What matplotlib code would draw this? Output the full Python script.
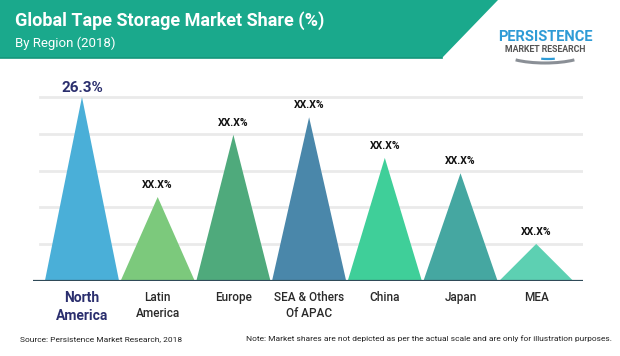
import numpy as np
import matplotlib.pyplot as plt
from matplotlib.patches import Polygon, Arc

# chart data
regions = ['North\nAmerica', 'Latin\nAmerica', 'Europe', 'SEA & Others\nOf APAC', 'China', 'Japan', 'MEA']
shares = [26.3, 12.0, 20.9, 23.4, 17.6, 15.4, 5.3]
share_labels = ['26.3%', 'XX.X%', 'XX.X%', 'XX.X%', 'XX.X%', 'XX.X%', 'XX.X%']
colors = ['#4AAFD8', '#7CC97C', '#4FAA7C', '#4A87AA', '#3FCF99', '#45A7A1', '#5DD0B2']

W, H = 620, 356
fig = plt.figure(figsize=(W / 100, H / 100), dpi=100)
fig.patch.set_facecolor('white')
plt.rcParams['font.family'] = ['Roboto', 'DejaVu Sans']

# header band with slanted right edge
bg = fig.add_axes([0, 0, 1, 1])
bg.set_xlim(0, W)
bg.set_ylim(H, 0)
bg.axis('off')
bg.add_patch(Polygon([[0, 0], [498, 0], [442, 58], [0, 58]], closed=True,
                     facecolor='#1AA98C', edgecolor='none'))
bg.plot([0, 442], [58, 58], color='#14967B', lw=1.2)
bg.text(15, 21, 'Global Tape Storage Market Share (%)', color='white',
        fontsize=13, fontweight='bold', va='center', ha='left')
bg.text(15, 43, 'By Region (2018)', color='white', fontsize=9.5, va='center', ha='left')

# logo as text plus a swoosh underneath (y axis is flipped here)
bg.add_patch(Arc((545, 52), 84, 22, theta1=15, theta2=165, color='#8A8F96', lw=2.2))
bg.add_patch(Arc((548, 53), 44, 12, theta1=40, theta2=140, color='#2E9BD6', lw=1.6))
bg.text(545, 37, 'PERSISTENCE', color='#2E9BD6', fontsize=10.5, fontweight='bold',
        ha='center', va='center')
bg.text(545, 50, 'MARKET RESEARCH', color='#555555', fontsize=6.3, fontweight='bold',
        ha='center', va='center')

# footer
bg.text(20, 339, 'Source: Persistence Market Research, 2018', fontsize=6,
        color='#222222', va='center', ha='left')
bg.text(612, 339, 'Note: Market shares are not depicted as per the actual scale and are only for illustration purposes.',
        fontsize=6, color='#222222', va='center', ha='right')

# main chart axes: baseline at y=281 px, x from 33 to 583 px
left, right, bottom, top = 33, 583, 281, 85
ax = fig.add_axes([left / W, 1 - bottom / H, (right - left) / W, (bottom - top) / H])
ax.patch.set_alpha(0)
x = np.arange(len(regions))
ax.set_xlim(-0.647, 6.618)
ymax = max(shares) * (bottom - top) / (bottom - 97)
ax.set_ylim(0, ymax)

for v in np.linspace(0, max(shares), 6)[1:]:
    ax.axhline(v, xmin=0.013, xmax=1, color='#EAEAEA', lw=2, zorder=0)

half = 0.49
for xi, v, c in zip(x, shares, colors):
    ax.add_patch(Polygon([[xi - half, 0], [xi, v], [xi + half, 0]], closed=True,
                         facecolor=c, edgecolor='none', zorder=2))

for i, (xi, v, lab) in enumerate(zip(x, shares, share_labels)):
    if i == 0:
        ax.text(xi, v + 0.25, lab, ha='center', va='bottom', fontsize=11,
                fontweight='bold', color='#2B2F6E', zorder=3)
    else:
        ax.text(xi, v + 1.0, lab, ha='center', va='bottom', fontsize=7.5,
                fontweight='bold', color='#111111', zorder=3)

ax.axhline(0, color='#2F4A58', lw=1.6, zorder=4)

ax.set_xticks(x)
ax.set_xticklabels(regions, fontsize=8.5, color='#2A2A2A', linespacing=1.35,
                   fontweight='medium')
lbls = ax.get_xticklabels()
lbls[0].set_color('#2B2F6E')
lbls[0].set_fontweight('bold')
lbls[0].set_fontsize(10)
ax.tick_params(axis='x', length=0, pad=7)
ax.set_yticks([])
for s in ax.spines.values():
    s.set_visible(False)

fig.savefig('out.png', dpi=100, facecolor='white')
